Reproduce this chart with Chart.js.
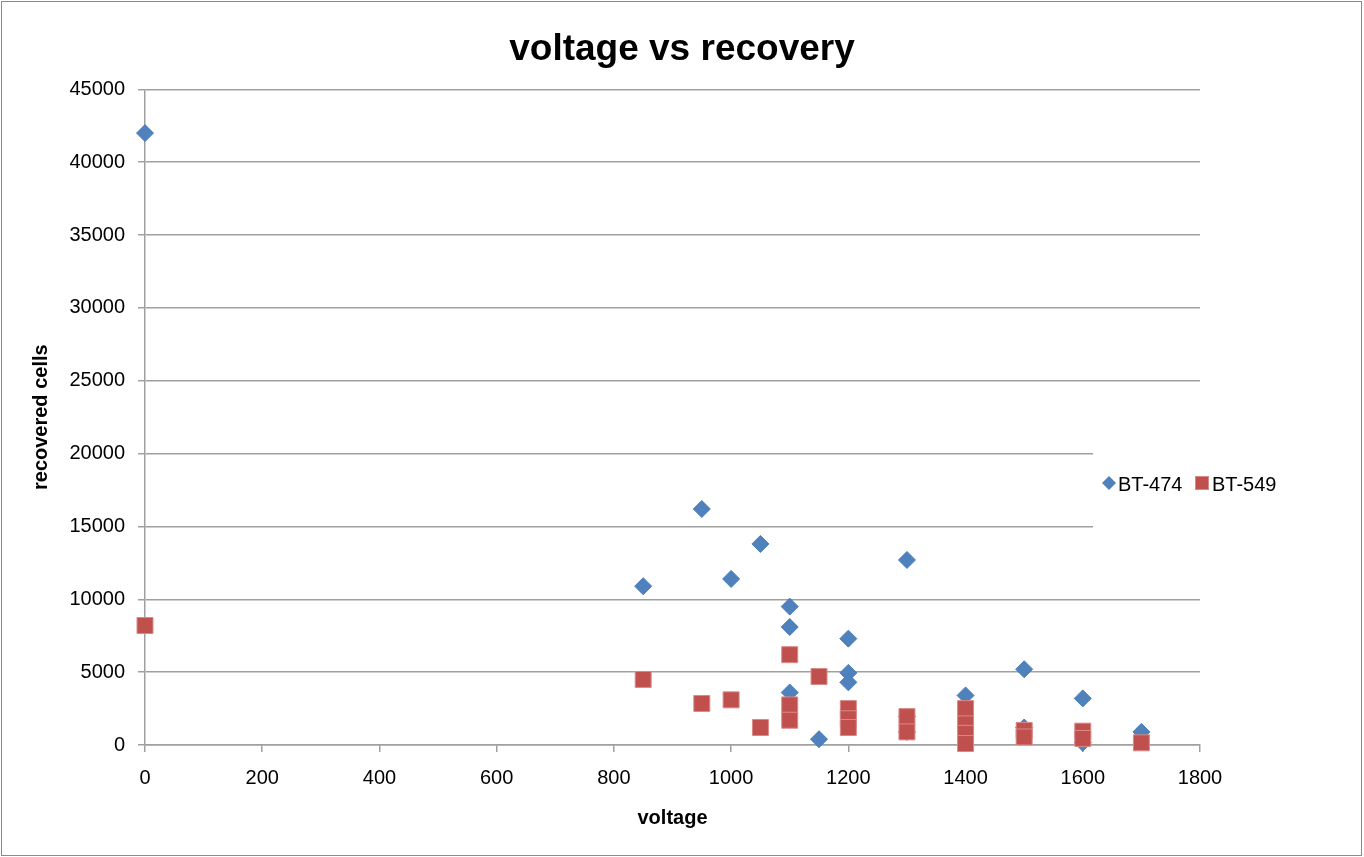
<!DOCTYPE html>
<html>
<head>
<meta charset="utf-8">
<script src="https://cdn.jsdelivr.net/npm/chart.js@4.4.1/dist/chart.umd.min.js"></script>
<style>
  html, body { margin: 0; padding: 0; background: #fff; }
  #c { display: block; }
</style>
</head>
<body>
<canvas id="c" width="1364" height="857"></canvas>
<script>
// ---- data ----
const seriesNames = ["BT-474", "BT-549"];
const voltage474 = [0, 850, 950, 1000, 1050, 1100, 1100, 1100, 1150, 1200, 1200, 1200, 1300, 1300, 1300, 1400, 1500, 1500, 1600, 1600, 1700];
const cells474   = [42000, 10900, 16200, 11400, 13800, 9500, 8100, 3600, 400, 7300, 4950, 4300, 12700, 1950, 900, 3400, 5200, 1200, 3200, 150, 900];
const voltage549 = [0, 850, 950, 1000, 1050, 1100, 1100, 1100, 1150, 1200, 1200, 1200, 1300, 1300, 1400, 1400, 1400, 1400, 1500, 1500, 1600, 1600, 1700];
const cells549   = [8200, 4500, 2850, 3100, 1200, 6200, 2750, 1700, 4700, 2500, 1800, 1200, 1950, 900, 2500, 1450, 800, 100, 1000, 550, 950, 450, 150];
const xTicks = [0, 200, 400, 600, 800, 1000, 1200, 1400, 1600, 1800];
const yTicks = [0, 5000, 10000, 15000, 20000, 25000, 30000, 35000, 40000, 45000];

const FONT = "'Liberation Sans', Arial, Helvetica, sans-serif";
const BLUE = '#4F81BD';
const RED = '#C0504D';
const GRID = '#a0a0a0';

function pts(xs, ys) { return xs.map((x, i) => ({ x: x, y: ys[i] })); }

const frame = {
  id: 'frame',
  beforeDraw(chart) {
    const ctx = chart.ctx;
    ctx.save();
    ctx.fillStyle = '#fff';
    ctx.fillRect(0, 0, chart.width, chart.height);
    ctx.strokeStyle = '#8a8a8a';
    ctx.lineWidth = 1;
    ctx.strokeRect(1.5, 1.5, chart.width - 4, chart.height - 3);
    ctx.restore();
  }
};

const sideLegend = {
  id: 'sideLegend',
  beforeDatasetsDraw(chart) {
    const ctx = chart.ctx;
    ctx.save();
    ctx.fillStyle = '#fff';
    ctx.fillRect(1093, 447, 260, 86);
    ctx.restore();
  },
  afterDatasetsDraw(chart) {
    const ctx = chart.ctx;
    const ds = chart.data.datasets;
    ctx.save();
    ctx.font = '20px ' + FONT;
    ctx.textBaseline = 'middle';
    ctx.textAlign = 'left';
    const cy = 483;
    // item 1: diamond
    ctx.fillStyle = ds[0].backgroundColor;
    ctx.beginPath();
    ctx.moveTo(1102, cy); ctx.lineTo(1109, cy - 7); ctx.lineTo(1116, cy); ctx.lineTo(1109, cy + 7);
    ctx.closePath(); ctx.fill();
    ctx.fillStyle = '#000';
    ctx.fillText(ds[0].label, 1118, cy + 2);
    // item 2: square
    ctx.fillStyle = ds[1].backgroundColor;
    ctx.fillRect(1195, cy - 7, 14, 14);
    ctx.strokeStyle = ds[1].borderColor;
    ctx.lineWidth = 1;
    ctx.strokeRect(1195.5, cy - 6.5, 13, 13);
    ctx.fillStyle = '#000';
    ctx.fillText(ds[1].label, 1212, cy + 2);
    ctx.restore();
  }
};

new Chart(document.getElementById('c'), {
  type: 'scatter',
  data: {
    datasets: [
      {
        label: seriesNames[0],
        data: pts(voltage474, cells474),
        order: 1,
        clip: false,
        pointStyle: 'rectRot',
        pointRadius: 8.5,
        pointHoverRadius: 8.5,
        backgroundColor: BLUE,
        borderColor: '#4A7EBB',
        borderWidth: 1
      },
      {
        label: seriesNames[1],
        data: pts(voltage549, cells549),
        order: 0,
        clip: false,
        pointStyle: 'rect',
        pointRadius: 11.3,
        pointHoverRadius: 11.3,
        backgroundColor: RED,
        borderColor: '#D88A88',
        borderWidth: 1
      }
    ]
  },
  options: {
    responsive: false,
    animation: false,
    devicePixelRatio: 1,
    layout: { padding: 0 },
    plugins: {
      legend: { display: false },
      tooltip: { enabled: false },
      title: {
        display: true,
        text: 'voltage vs recovery',
        color: '#000',
        font: { family: FONT, size: 37, weight: 'bold', lineHeight: 1.2 },
        padding: { top: 28, bottom: 17 }
      }
    },
    scales: {
      x: {
        type: 'linear',
        position: 'bottom',
        min: 0,
        max: 1800,
        afterBuildTicks: (s) => { s.ticks = xTicks.map(v => ({ value: v })); },
        afterFit: (s) => { s.height = 112; },
        ticks: {
          color: '#000',
          font: { family: FONT, size: 20 },
          padding: 14,
          maxRotation: 0,
          autoSkip: false,
          callback: (v) => String(v)
        },
        grid: {
          drawOnChartArea: false,
          drawTicks: true,
          tickLength: 7,
          color: GRID,
          lineWidth: 1.5
        },
        border: { display: true, color: GRID, width: 1.5 },
        title: {
          display: true,
          text: 'voltage',
          color: '#000',
          font: { family: FONT, size: 20, weight: 'bold', lineHeight: 1.2 },
          padding: { top: 0, bottom: 27 }
        }
      },
      y: {
        type: 'linear',
        position: 'left',
        min: 0,
        max: 45000,
        afterBuildTicks: (s) => { s.ticks = yTicks.map(v => ({ value: v })); },
        afterFit: (s) => { s.width = 145; },
        ticks: {
          color: '#000',
          font: { family: FONT, size: 20 },
          padding: 13,
          autoSkip: false,
          callback: (v) => String(v)
        },
        grid: {
          drawOnChartArea: true,
          drawTicks: true,
          tickLength: 7,
          color: GRID,
          lineWidth: 1.5
        },
        border: { display: true, color: GRID, width: 1.5 },
        title: {
          display: true,
          text: 'recovered cells',
          color: '#000',
          font: { family: FONT, size: 20, weight: 'bold', lineHeight: 1.2 },
          padding: { top: 29, bottom: 0 }
        }
      },
      spacer: {
        type: 'linear',
        position: 'right',
        display: true,
        afterFit: (s) => { s.width = 164; },
        ticks: { display: false },
        grid: { display: false },
        border: { display: false }
      }
    }
  },
  plugins: [frame, sideLegend]
});
</script>
</body>
</html>
